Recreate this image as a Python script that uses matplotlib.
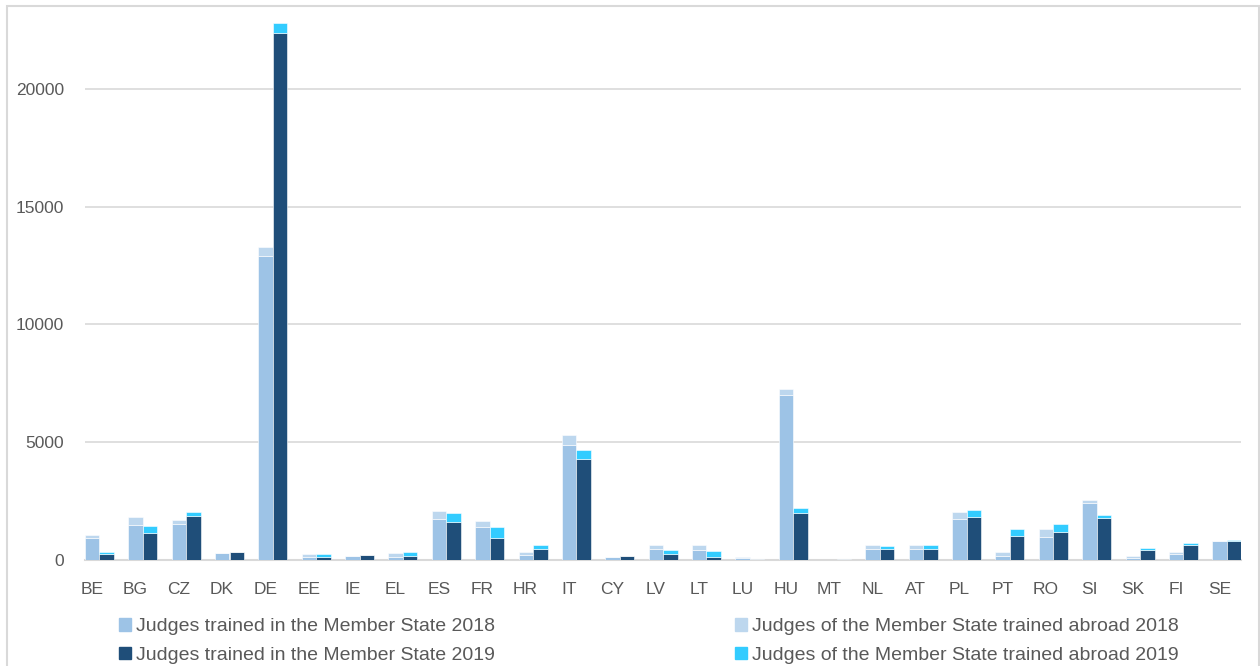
import matplotlib.pyplot as plt
import matplotlib.patches as mpatches
import numpy as np

plt.rcParams['font.family'] = ['Liberation Sans', 'DejaVu Sans']

countries = ['BE', 'BG', 'CZ', 'DK', 'DE', 'EE', 'IE', 'EL', 'ES', 'FR', 'HR', 'IT', 'CY', 'LV',
             'LT', 'LU', 'HU', 'MT', 'NL', 'AT', 'PL', 'PT', 'RO', 'SI', 'SK', 'FI', 'SE']

# judges trained in the member state / abroad, 2018
in_2018 = [920, 1480, 1520, 260, 12900, 110, 170, 110, 1720, 1380, 185, 4890, 100, 450,
           410, 55, 7000, 0, 440, 440, 1730, 155, 965, 2415, 55, 240, 780]
abroad_2018 = [105, 330, 160, 0, 410, 105, 0, 160, 340, 250, 155, 400, 0, 160,
               190, 45, 260, 0, 160, 170, 300, 155, 315, 115, 85, 70, 20]
# 2019
in_2019 = [240, 1110, 1860, 310, 22400, 100, 195, 155, 1600, 920, 450, 4270, 170, 240,
           110, 15, 1990, 40, 450, 450, 1820, 995, 1150, 1750, 410, 610, 795]
abroad_2019 = [85, 310, 160, 0, 440, 140, 0, 185, 360, 460, 150, 395, 0, 160,
               260, 0, 200, 0, 130, 150, 300, 285, 355, 140, 70, 85, 25]

c_in18 = '#9dc3e6'
c_ab18 = '#bdd7ee'
c_in19 = '#1f4e79'
c_ab19 = '#33ccff'
text_c = '#595959'
grid_c = '#d9d9d9'

fig = plt.figure(figsize=(12.6, 6.66), dpi=100)
ax = fig.add_axes([85 / 1260, 1 - 559.5 / 666, (1241 - 85) / 1260, (559.5 - 6) / 666])

x = np.arange(len(countries))
w = 0.334
ax.bar(x + 0.005, in_2018, w, color=c_in18, edgecolor='white', linewidth=0.4, zorder=3)
ax.bar(x + 0.005, abroad_2018, w, bottom=in_2018, color=c_ab18, edgecolor='white', linewidth=0.4, zorder=3)
ax.bar(x + 0.34, in_2019, w, color=c_in19, edgecolor='white', linewidth=0.4, zorder=3)
ax.bar(x + 0.34, abroad_2019, w, bottom=in_2019, color=c_ab19, edgecolor='white', linewidth=0.4, zorder=3)

ax.set_xlim(-0.16, 26.5)
ax.set_ylim(0, 23550)
ax.set_yticks([0, 5000, 10000, 15000, 20000])
ax.yaxis.grid(True, color=grid_c, linewidth=1.2)
ax.set_axisbelow(True)
ax.set_xticks(x)
ax.set_xticklabels(countries)
ax.tick_params(axis='both', length=0, labelsize=12.5, colors=text_c)
ax.tick_params(axis='y', pad=15)
ax.tick_params(axis='x', pad=16)
for s in ['top', 'right', 'left']:
    ax.spines[s].set_visible(False)
ax.spines['bottom'].set_color(grid_c)
ax.spines['bottom'].set_linewidth(1.5)

# legend: two columns placed separately
leg_kw = dict(loc='upper left', frameon=False, fontsize=14, handlelength=0.62, handleheight=0.62,
              handletextpad=0.25, labelspacing=0.6, borderaxespad=0, borderpad=0)
leg1 = fig.legend([mpatches.Patch(color=c_in18), mpatches.Patch(color=c_in19)],
                  ['Judges trained in the Member State 2018', 'Judges trained in the Member State 2019'],
                  bbox_to_anchor=(119 / 1260, 1 - 618 / 666), **leg_kw)
leg2 = fig.legend([mpatches.Patch(color=c_ab18), mpatches.Patch(color=c_ab19)],
                  ['Judges of the Member State trained abroad 2018',
                   'Judges of the Member State trained abroad 2019'],
                  bbox_to_anchor=(735 / 1260, 1 - 618 / 666), **leg_kw)
for leg in (leg1, leg2):
    for t in leg.get_texts():
        t.set_color(text_c)

# chart border
fig.patches.append(mpatches.Rectangle((7 / 1260, -0.05), (1259 - 7) / 1260, 1.05 - 6 / 666,
                                      transform=fig.transFigure, fill=False, edgecolor=grid_c, linewidth=1.5))

fig.savefig('out.png', dpi=100)
